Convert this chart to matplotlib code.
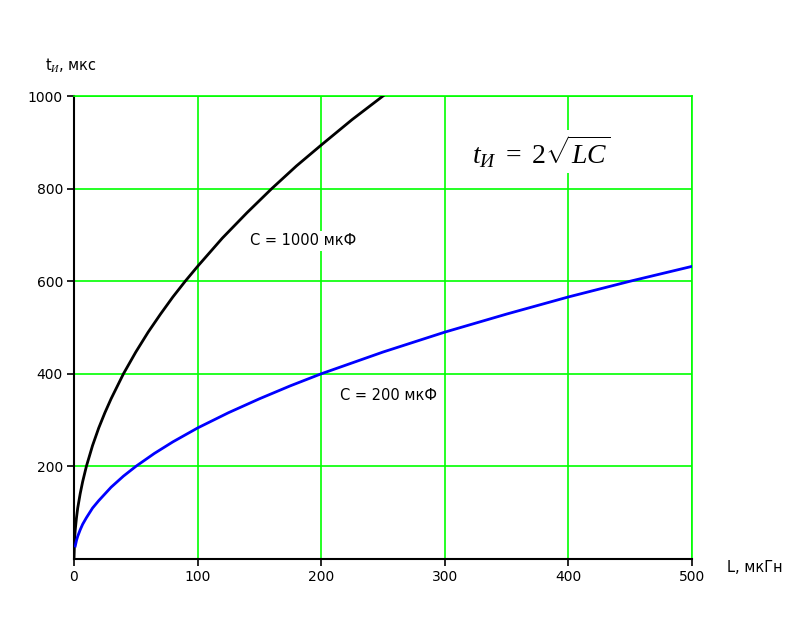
import matplotlib as mpl
import matplotlib.pyplot as plt

mpl.rcParams.update({
    "font.family": "DejaVu Sans",
    "font.size": 10,
    "mathtext.fontset": "custom",
    "mathtext.rm": "Liberation Serif",
    "mathtext.it": "Liberation Serif:italic",
})

# t = 2*sqrt(L*C)
L_1000 = [0, 0.5, 1, 2, 3, 5, 7, 10, 15, 20, 25, 30, 40, 50, 60, 70, 80, 90,
          100, 120, 140, 160, 180, 200, 225, 250]
T_1000 = [0, 45, 63, 89, 110, 141, 167, 200, 245, 283, 316, 346, 400, 447, 490,
          529, 566, 600, 632, 693, 748, 800, 849, 894, 949, 1000]

L_200 = [1, 2, 3, 5, 7, 10, 15, 20, 30, 40, 50, 65, 80, 100, 125, 150, 175,
         200, 250, 300, 350, 400, 450, 500]
T_200 = [28, 40, 49, 63, 75, 89, 110, 126, 155, 179, 200, 228, 253, 283, 316,
         346, 374, 400, 447, 490, 529, 566, 600, 632]

X_TICKS = [0, 100, 200, 300, 400, 500]
Y_TICKS = [200, 400, 600, 800, 1000]

GREEN = "#00ff00"

fig = plt.figure(figsize=(7.93, 6.27), dpi=100)
ax = fig.add_axes([74 / 793, 1 - 559 / 627, 618 / 793, 463 / 627])

ax.plot(L_1000, T_1000, color="black", lw=2, zorder=3)
ax.plot(L_200, T_200, color="#0000ff", lw=2, zorder=3)

ax.set_xlim(0, 500)
ax.set_ylim(0, 1000)
ax.set_xticks(X_TICKS)
ax.set_yticks(Y_TICKS)
ax.grid(True, color=GREEN, lw=1.2)
ax.set_axisbelow(True)
for s in ("top", "right"):
    ax.spines[s].set_color(GREEN)
    ax.spines[s].set_linewidth(1.2)
for s in ("left", "bottom"):
    ax.spines[s].set_linewidth(1.5)
ax.tick_params(length=5, width=1.2, color="black", pad=3, labelsize=10)

box = dict(facecolor="white", edgecolor="none", pad=2)
ax.text(142, 687, "C = 1000 мкФ", fontsize=10.5, va="center", ha="left",
        bbox=box, zorder=4)
ax.text(215, 354, "C = 200 мкФ", fontsize=10.5, va="center", ha="left",
        bbox=box, zorder=4)
ax.text(322, 880, r"$t_{И}\ =\ 2\sqrt{LC}$", fontsize=20, va="center",
        ha="left", bbox=box, zorder=4)

fig.text(45 / 793, 1 - 66 / 627, r"t$_{И}$, мкс", fontsize=10.5, va="center")
fig.text(727 / 793, 1 - 568 / 627, "L, мкГн", fontsize=10.5, va="center")

fig.savefig("out.png", dpi=100)
